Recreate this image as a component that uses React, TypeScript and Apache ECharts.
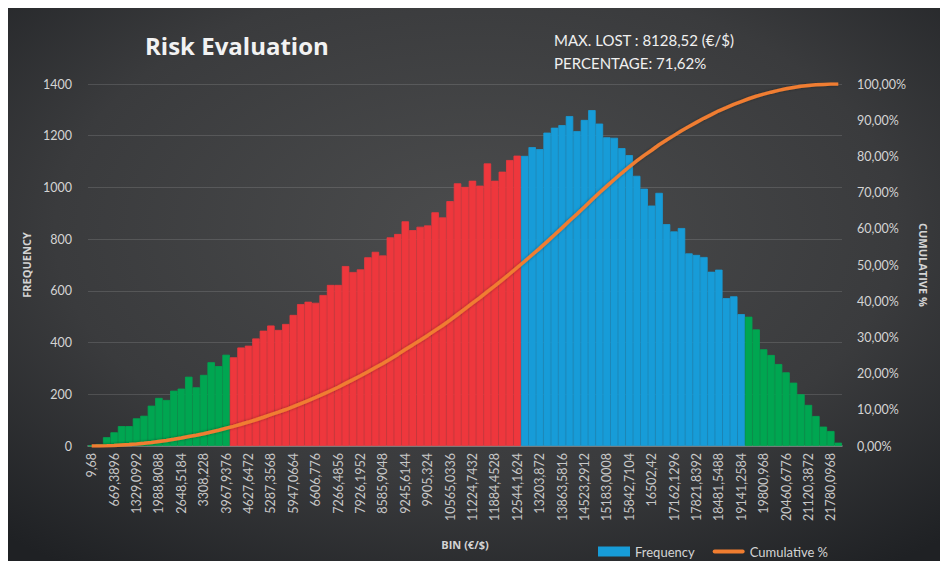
import React, { useEffect, useRef } from "react";
import * as echarts from "echarts";

// Visible bin tick labels (every third bin)
const BIN_TICKS = [
  "9,68", "669,3896", "1329,0992", "1988,8088", "2648,5184", "3308,228", "3967,9376",
  "4627,6472", "5287,3568", "5947,0664", "6606,776", "7266,4856", "7926,1952", "8585,9048",
  "9245,6144", "9905,324", "10565,0336", "11224,7432", "11884,4528", "12544,1624", "13203,872",
  "13863,5816", "14523,2912", "15183,0008", "15842,7104", "16502,42", "17162,1296", "17821,8392",
  "18481,5488", "19141,2584", "19800,968", "20460,6776", "21120,3872", "21780,0968",
];
const BIN_START = 9.68;
const BIN_WIDTH = 219.9032;

// Frequency per bin (101 bins)
const FREQUENCY = [
  2, 8, 34, 53, 77, 77, 107, 117, 156, 186,
  178, 214, 222, 268, 227, 275, 324, 309, 353, 343,
  381, 388, 416, 446, 466, 449, 472, 507, 549, 558,
  554, 584, 623, 623, 696, 673, 683, 730, 751, 737,
  807, 820, 869, 835, 848, 853, 904, 884, 947, 1016,
  1002, 1026, 1007, 1093, 1026, 1061, 1106, 1123, 1122, 1156,
  1148, 1212, 1231, 1241, 1276, 1218, 1261, 1299, 1247, 1194,
  1192, 1152, 1125, 1045, 995, 930, 979, 858, 830, 843,
  745, 739, 731, 674, 682, 572, 579, 510, 500, 451,
  374, 352, 317, 285, 245, 200, 159, 116, 75, 58,
  13,
];

// Zones: [first bin, last bin, colour]
const ZONES: [number, number, string][] = [
  [0, 18, "#00a651"],
  [19, 57, "#ee373d"],
  [58, 87, "#179cd8"],
  [88, 100, "#00a651"],
];

const FREQ_TICKS = [0, 1400, 200];
const TITLE = "Risk Evaluation";
const NOTE_LINES = ["MAX. LOST : 8128,52 (€/$)", "PERCENTAGE: 71,62%"];

function fmtNum(v: number): string {
  let s = (Math.round(v * 10000) / 10000).toFixed(4);
  s = s.replace(/0+$/, "").replace(/\.$/, "");
  return s.replace(".", ",");
}

export default function App() {
  const ref = useRef<HTMLDivElement>(null);
  useEffect(() => {
    if (!ref.current) return;
    const chart = echarts.init(ref.current, null, { renderer: "svg" });
    const categories = FREQUENCY.map((_, i) =>
      i % 3 === 0 && BIN_TICKS[i / 3] ? BIN_TICKS[i / 3] : fmtNum(BIN_START + BIN_WIDTH * i)
    );
    const total = FREQUENCY.reduce((a, b) => a + b, 0);
    let run = 0;
    const cumulative = FREQUENCY.map((f) => {
      run += f;
      return run / total;
    });
    const colorOf = (i: number) => {
      for (const [a, b, c] of ZONES) if (i >= a && i <= b) return c;
      return "#179cd8";
    };
    const labelColor = "#d4d4d4";
    chart.setOption({
      animation: false,
      backgroundColor: {
        type: "radial",
        x: 0.5,
        y: 0.4,
        r: 0.75,
        colorStops: [
          { offset: 0, color: "#4b4c4d" },
          { offset: 0.6, color: "#3a3b3d" },
          { offset: 1, color: "#1f2124" },
        ],
      },
      grid: { left: 80, right: 103, top: 76, bottom: 115 },
      graphic: [
        {
          type: "text",
          left: 137,
          top: 25,
          style: {
            text: TITLE,
            fill: "#f2f2f2",
            font: "bold 24px 'Open Sans'",
            shadowColor: "rgba(0,0,0,0.7)",
            shadowBlur: 4,
            shadowOffsetX: 1,
            shadowOffsetY: 2,
          },
        },
        {
          type: "text",
          left: 546,
          top: 20,
          style: {
            text: NOTE_LINES.join("\n"),
            fill: "#f0f0f0",
            font: "15px Lato",
            lineHeight: 23,
          },
        },
      ],
      legend: {
        left: 585,
        top: 532,
        itemWidth: 32,
        itemHeight: 10,
        itemGap: 18,
        symbolKeepAspect: true,
        textStyle: { color: labelColor, fontFamily: "Lato", fontSize: 13 },
        data: [
          { name: "Frequency", icon: "rect", itemStyle: { color: "#179cd8" } },
          {
            name: "Cumulative %",
            icon: "path://M2,0 L30,0 A2,2 0 0 1 30,4 L2,4 A2,2 0 0 1 2,0 Z",
            itemStyle: { color: "#f07d30" },
          },
        ],
      },
      xAxis: {
        type: "category",
        data: categories,
        name: "BIN (€/$)",
        nameLocation: "middle",
        nameGap: 93,
        nameTextStyle: { color: labelColor, fontFamily: "Open Sans", fontWeight: "bold", fontSize: 11 },
        axisLine: { lineStyle: { color: "#8a8a8a", width: 1.5 } },
        axisTick: { show: false },
        axisLabel: {
          interval: 2,
          rotate: 90,
          color: "#c8c8c8",
          fontFamily: "Lato",
          fontSize: 12.5,
          margin: 7,
        },
      },
      yAxis: [
        {
          type: "value",
          min: FREQ_TICKS[0],
          max: FREQ_TICKS[1],
          interval: FREQ_TICKS[2],
          name: "FREQUENCY",
          nameLocation: "middle",
          nameGap: 46,
          nameRotate: 90,
          nameTextStyle: { color: labelColor, fontFamily: "Open Sans", fontWeight: "bold", fontSize: 11 },
          axisLine: { show: false },
          axisTick: { show: false },
          axisLabel: {
            color: labelColor,
            fontFamily: "Lato",
            fontSize: 12.5,
            margin: 16,
            formatter: (v: number) => String(v),
          },
          splitLine: { lineStyle: { color: "rgba(255,255,255,0.13)", width: 1 } },
        },
        {
          type: "value",
          min: 0,
          max: 1,
          interval: 0.1,
          name: "CUMULATIVE %",
          nameLocation: "middle",
          nameGap: 76,
          nameRotate: -90,
          nameTextStyle: { color: labelColor, fontFamily: "Open Sans", fontWeight: "bold", fontSize: 11 },
          axisLine: { show: false },
          axisTick: { show: false },
          splitLine: { show: false },
          axisLabel: {
            color: labelColor,
            fontFamily: "Lato",
            fontSize: 12.5,
            margin: 15,
            formatter: (v: number) => (v * 100).toFixed(2).replace(".", ",") + "%",
          },
        },
      ],
      series: [
        {
          name: "Frequency",
          type: "bar",
          barCategoryGap: 0,
          color: "#179cd8",
          data: FREQUENCY.map((v, i) => ({
            value: v,
            itemStyle: { color: colorOf(i), borderColor: colorOf(i), borderWidth: 0.8 },
          })),
        },
        {
          name: "Cumulative %",
          type: "line",
          yAxisIndex: 1,
          symbol: "none",
          color: "#f07d30",
          lineStyle: { color: "#f07d30", width: 3.5, shadowColor: "rgba(0,0,0,0.35)", shadowBlur: 3 },
          data: cumulative,
        },
      ],
    });
    return () => chart.dispose();
  }, []);
  return <div ref={ref} style={{ width: 937, height: 553 }} />;
}
